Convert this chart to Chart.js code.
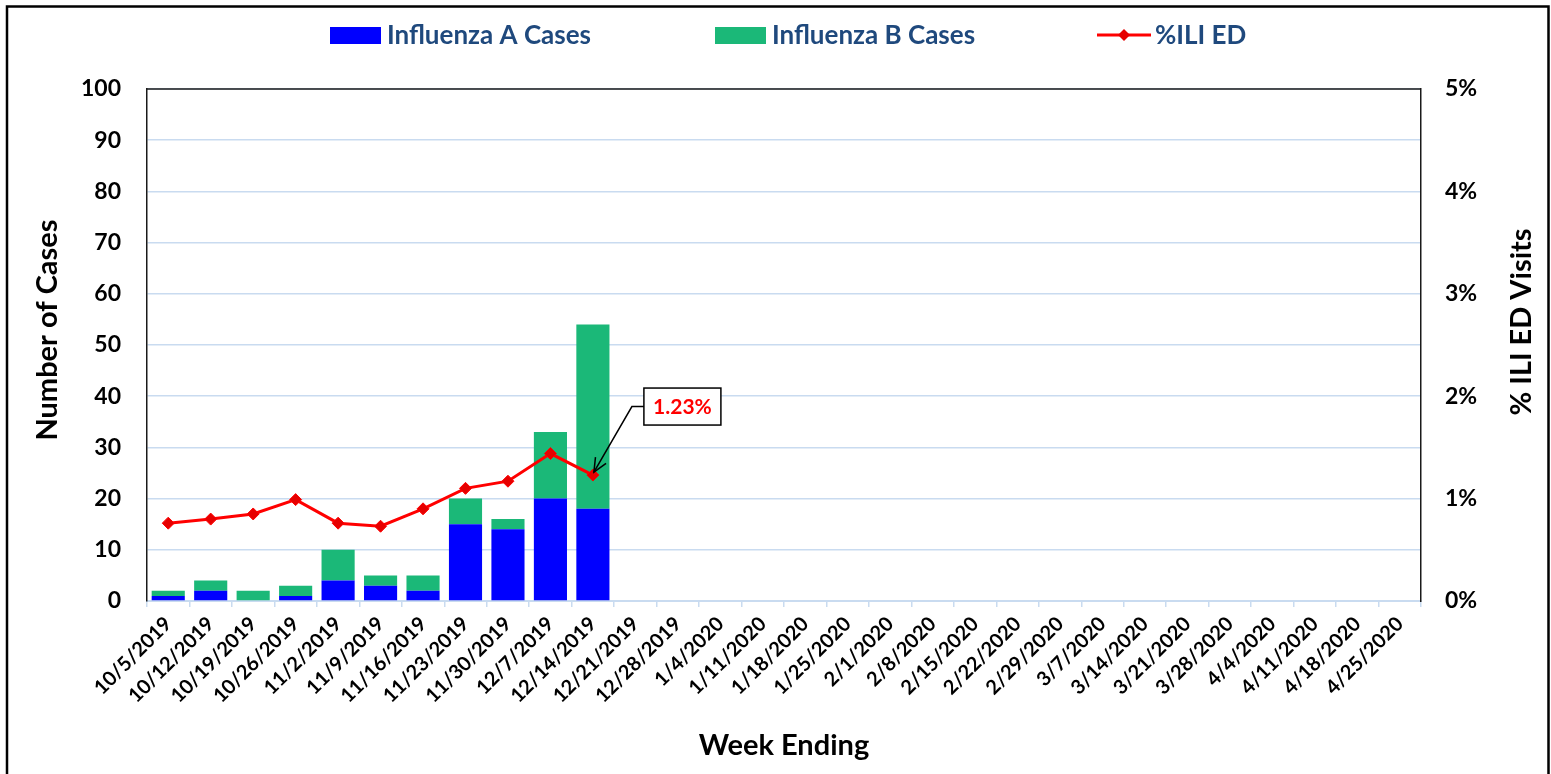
<!DOCTYPE html>
<html><head><meta charset="utf-8">
<script src="https://cdn.jsdelivr.net/npm/chart.js@4.4.1/dist/chart.umd.min.js"></script>
<style>html,body{margin:0;padding:0;background:#fff}#wrap{width:1551px;height:774px;position:relative}</style>
</head><body><div id="wrap"><canvas id="c"></canvas></div>
<script>
const weekLabels = ['10/5/2019','10/12/2019','10/19/2019','10/26/2019','11/2/2019','11/9/2019','11/16/2019','11/23/2019','11/30/2019','12/7/2019','12/14/2019','12/21/2019','12/28/2019','1/4/2020','1/11/2020','1/18/2020','1/25/2020','2/1/2020','2/8/2020','2/15/2020','2/22/2020','2/29/2020','3/7/2020','3/14/2020','3/21/2020','3/28/2020','4/4/2020','4/11/2020','4/18/2020','4/25/2020'];
const fluA = [1,2,0,1,4,3,2,15,14,20,18];
const fluB = [1,2,2,2,6,2,3,5,2,13,36];
const iliPct = [0.76,0.80,0.85,0.99,0.76,0.73,0.90,1.10,1.17,1.44,1.23];
const seriesNames = ['Influenza A Cases','Influenza B Cases','%ILI ED'];
const leftTitle = 'Number of Cases';
const rightTitle = '% ILI ED Visits';
const xTitle = 'Week Ending';
const calloutText = '1.23%';

const FONT = 'Lato, "Liberation Sans", sans-serif';
const GRID = '#c9dbf0';
const legendPos = [330, 715, 1097];

const decor = {
  id: 'decor',
  afterDraw(chart) {
    const ctx = chart.ctx, a = chart.chartArea;
    ctx.save();
    ctx.strokeStyle = '#000'; ctx.lineWidth = 2.5;
    ctx.beginPath(); ctx.moveTo(7, 774); ctx.lineTo(7, 6.5); ctx.lineTo(1548.5, 6.5); ctx.lineTo(1548.5, 774); ctx.stroke();
    ctx.lineWidth = 1.5; ctx.strokeStyle = '#1a1a1a';
    ctx.beginPath(); ctx.moveTo(a.left, a.top); ctx.lineTo(a.right, a.top); ctx.stroke();
    ctx.fillStyle = '#000'; ctx.font = 'bold 29px ' + FONT;
    ctx.textAlign = 'center'; ctx.textBaseline = 'middle';
    ctx.save(); ctx.translate(48, 330); ctx.rotate(-Math.PI/2); ctx.fillText(leftTitle, 0, 0); ctx.restore();
    ctx.save(); ctx.translate(1522, 322); ctx.rotate(-Math.PI/2); ctx.fillText(rightTitle, 0, 0); ctx.restore();
    ctx.font = 'bold 26px ' + FONT; ctx.textAlign = 'left';
    chart.data.datasets.forEach((ds, i) => {
      const x = legendPos[i], y = 35;
      if (ds.type === 'line') {
        ctx.strokeStyle = ds.borderColor; ctx.lineWidth = 3;
        ctx.beginPath(); ctx.moveTo(x, y); ctx.lineTo(x + 54, y); ctx.stroke();
        ctx.fillStyle = ds.pointBackgroundColor;
        ctx.beginPath(); ctx.moveTo(x+27, y-6); ctx.lineTo(x+33, y); ctx.lineTo(x+27, y+6); ctx.lineTo(x+21, y); ctx.closePath(); ctx.fill();
        ctx.fillStyle = '#1f497d'; ctx.fillText(ds.label, x + 58, y + 1);
      } else {
        ctx.fillStyle = ds.backgroundColor; ctx.fillRect(x, y - 8, 51, 17);
        ctx.fillStyle = '#1f497d'; ctx.fillText(ds.label, x + 57, y + 1);
      }
    });
    const meta = chart.getDatasetMeta(2);
    const pt = meta.data[iliPct.length - 1];
    const px = pt.x, py = pt.y;
    const bx = px + 51, by = py - 87, bw = 77, bh = 37;
    ctx.strokeStyle = '#000'; ctx.lineWidth = 1.5;
    ctx.fillStyle = '#fff'; ctx.fillRect(bx, by, bw, bh); ctx.strokeRect(bx, by, bw, bh);
    ctx.fillStyle = '#ff0000'; ctx.font = 'bold 21px ' + FONT; ctx.textAlign = 'center';
    ctx.fillText(calloutText, bx + bw/2, by + bh/2 + 1);
    const sx = bx - 12, sy = by + bh/2, ex = px + 1, ey = py - 3;
    ctx.beginPath(); ctx.moveTo(bx, sy); ctx.lineTo(sx, sy); ctx.lineTo(ex, ey); ctx.stroke();
    const ang = Math.atan2(ey - sy, ex - sx), L = 15, w = 0.42;
    ctx.beginPath();
    ctx.moveTo(ex - L*Math.cos(ang - w), ey - L*Math.sin(ang - w)); ctx.lineTo(ex, ey);
    ctx.lineTo(ex - L*Math.cos(ang + w), ey - L*Math.sin(ang + w)); ctx.stroke();
    ctx.restore();
  }
};

new Chart(document.getElementById('c'), {
  data: {
    labels: weekLabels,
    datasets: [
      { type: 'bar', label: seriesNames[0], data: fluA, backgroundColor: '#0000ff', stack: 'c', yAxisID: 'y', order: 2, barPercentage: 0.78, categoryPercentage: 1 },
      { type: 'bar', label: seriesNames[1], data: fluB, backgroundColor: '#1bb878', stack: 'c', yAxisID: 'y', order: 2, barPercentage: 0.78, categoryPercentage: 1 },
      { type: 'line', label: seriesNames[2], data: iliPct, yAxisID: 'y1', order: 0, borderColor: '#ff0000', borderWidth: 3, pointStyle: 'rectRot', pointRadius: 6, pointBackgroundColor: '#e60000', pointBorderColor: '#ff0000', pointBorderWidth: 1, tension: 0 }
    ]
  },
  options: {
    responsive: true, maintainAspectRatio: false, animation: false,
    layout: { padding: { top: 89, left: 0, right: 0, bottom: 0 } },
    plugins: { legend: { display: false }, tooltip: { enabled: false } },
    scales: {
      x: {
        stacked: true,
        grid: { display: true, drawOnChartArea: false, offset: true, color: GRID, lineWidth: 1.5, tickLength: 6 },
        border: { color: GRID, width: 2 },
        ticks: { autoSkip: false, minRotation: 45, maxRotation: 45, color: '#000', padding: 5, font: { family: FONT, size: 20, weight: 'bold' } },
        title: { display: true, text: xTitle, color: '#000', font: { family: FONT, size: 29, weight: 'bold' }, padding: { top: 0, bottom: 11 } },
        afterFit(s) { s.height = 173; }
      },
      y: {
        stacked: true, position: 'left', min: 0, max: 100,
        ticks: { stepSize: 10, color: '#000', padding: 26, font: { family: FONT, size: 23, weight: 'bold' } },
        grid: { color: GRID, lineWidth: 1.5, drawTicks: false },
        border: { color: '#1a1a1a', width: 1.5 },
        afterFit(s) { s.width = 147; }
      },
      y1: {
        position: 'right', min: 0, max: 5,
        ticks: { stepSize: 1, color: '#000', padding: 24, font: { family: FONT, size: 23, weight: 'bold' }, callback: v => v + '%' },
        grid: { drawOnChartArea: false, drawTicks: false },
        border: { color: '#1a1a1a', width: 1.5 },
        afterFit(s) { s.width = 130; }
      }
    }
  },
  plugins: [decor]
});
</script>
</body></html>
